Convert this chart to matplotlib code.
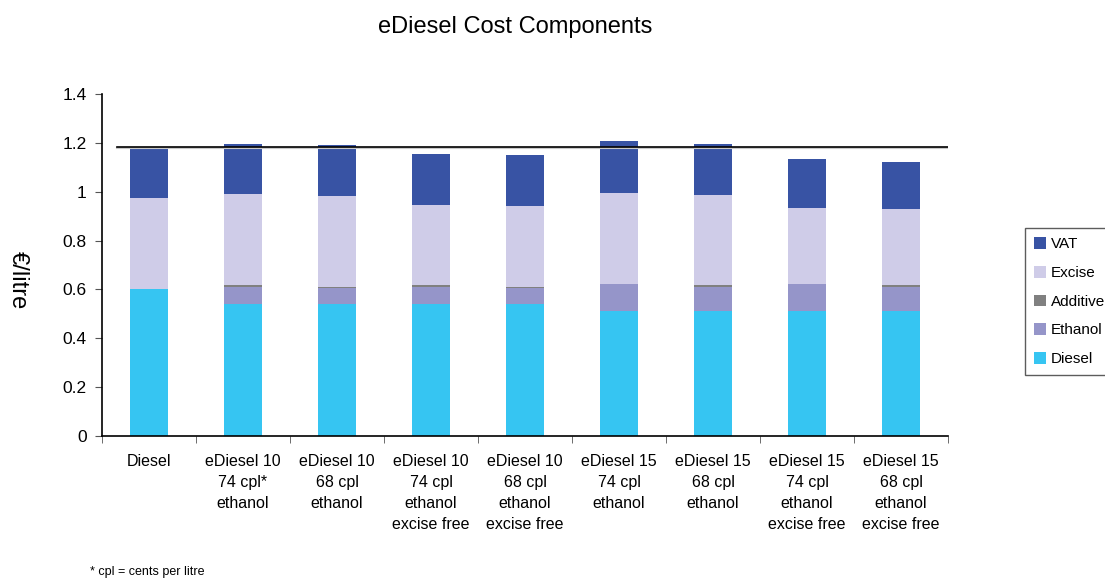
import numpy as np
import matplotlib.pyplot as plt
from matplotlib.patches import Patch

plt.rcParams['font.family'] = ['Liberation Sans', 'DejaVu Sans']

# categories and cost components (EUR per litre)
categorias = ['Diesel',
              'eDiesel 10\n74 cpl*\nethanol',
              'eDiesel 10\n68 cpl\nethanol',
              'eDiesel 10\n74 cpl\nethanol\nexcise free',
              'eDiesel 10\n68 cpl\nethanol\nexcise free',
              'eDiesel 15\n74 cpl\nethanol',
              'eDiesel 15\n68 cpl\nethanol',
              'eDiesel 15\n74 cpl\nethanol\nexcise free',
              'eDiesel 15\n68 cpl\nethanol\nexcise free']
diesel = [0.60, 0.54, 0.54, 0.54, 0.54, 0.51, 0.51, 0.51, 0.51]
ethanol = [0.0, 0.070, 0.066, 0.070, 0.066, 0.112, 0.101, 0.112, 0.101]
additive = [0.0, 0.008, 0.004, 0.008, 0.004, 0.0, 0.008, 0.0, 0.008]
excise = [0.374, 0.373, 0.372, 0.327, 0.331, 0.373, 0.367, 0.311, 0.310]
vat = [0.209, 0.204, 0.209, 0.209, 0.209, 0.212, 0.209, 0.201, 0.192]
precio_diesel = 1.183

componentes = [('Diesel', diesel, '#36C5F2'),
               ('Ethanol', ethanol, '#9595C9'),
               ('Additive', additive, '#808080'),
               ('Excise', excise, '#CFCCE8'),
               ('VAT', vat, '#3853A4')]

fig = plt.figure(figsize=(11.05, 5.8), dpi=100)
ax = fig.add_axes([102/1105, 1 - 436/580, 846/1105, 342/580])

x = np.arange(len(categorias))
base = np.zeros(len(categorias))
for nombre, valores, color in componentes:
    ax.bar(x, valores, 0.4, bottom=base, color=color, label=nombre)
    base = base + np.array(valores)

# linea de referencia con el precio del diesel (con sombra gris)
ax.plot([-0.34, 8.5], [precio_diesel - 0.005, precio_diesel - 0.005], color='#c8c8c8', lw=1.5, zorder=3)
ax.plot([-0.34, 8.5], [precio_diesel, precio_diesel], color='black', lw=1.2, zorder=4)

ax.set_xlim(-0.5, 8.5)
ax.set_ylim(0, 1.4)
ax.set_yticks(np.arange(0, 1.41, 0.2))
ax.set_yticklabels(['0', '0.2', '0.4', '0.6', '0.8', '1', '1.2', '1.4'], fontsize=12.5)
ax.set_xticks(x)
ax.set_xticklabels(categorias, fontsize=11.5, linespacing=1.5, va='top')
ax.set_xticks(np.arange(-0.5, 8.6, 1), minor=True)
ax.tick_params(axis='x', which='major', length=0, pad=13)
ax.tick_params(axis='x', which='minor', length=5, direction='out', color='#555555')
ax.tick_params(axis='y', length=5, direction='out', color='#555555', pad=6)
for s in ['top', 'right']:
    ax.spines[s].set_visible(False)
for s in ['left', 'bottom']:
    ax.spines[s].set_linewidth(1.2)

fig.text(515/1105, 1 - 27/580, 'eDiesel Cost Components', fontsize=17, ha='center', va='center')
fig.text(18/1105, 1 - 280/580, '€/litre', fontsize=17, rotation=270, ha='center', va='center')
fig.text(90/1105, 1 - 572/580, '* cpl = cents per litre', fontsize=9, ha='left', va='center')

handles = [Patch(facecolor=c, label=n) for n, v, c in componentes[::-1]]
fig.legend(handles=handles, loc='upper left', bbox_to_anchor=(1025/1105, 1 - 228/580),
           fontsize=11, frameon=True, fancybox=False, edgecolor='#333333',
           handlelength=0.8, handleheight=0.8, handletextpad=0.3,
           labelspacing=0.95, borderpad=0.6, borderaxespad=0)

fig.savefig('out.png', dpi=100)
